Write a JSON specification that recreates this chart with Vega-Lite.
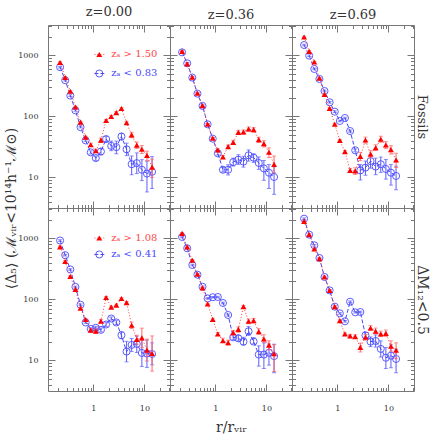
{
"$schema":"https://vega.github.io/schema/vega-lite/v6.json",
"padding":{"left":3,"top":5,"right":2,"bottom":2},
"bounds":"flush",
"spacing":0,
"columns":3,
"datasets":{
"pts":[
{"p":"F0","s":"r","x":0.224,"y":767,"lo":744,"hi":790},{"p":"F0","s":"r","x":0.282,"y":435,"lo":422,"hi":448},{"p":"F0","s":"r","x":0.355,"y":259,"lo":251,"hi":267},{"p":"F0","s":"r","x":0.447,"y":143,"lo":139,"hi":147},{"p":"F0","s":"r","x":0.562,"y":81,"lo":78.6,"hi":83.4},{"p":"F0","s":"r","x":0.708,"y":46,"lo":44.6,"hi":47.4},{"p":"F0","s":"r","x":0.891,"y":34.5,"lo":32.4,"hi":36.6},{"p":"F0","s":"r","x":1.12,"y":27.4,"lo":25.8,"hi":29},{"p":"F0","s":"r","x":1.41,"y":41,"lo":37.7,"hi":44.3},{"p":"F0","s":"r","x":1.78,"y":86,"lo":82.6,"hi":89.4},{"p":"F0","s":"r","x":2.24,"y":100,"lo":96,"hi":104},{"p":"F0","s":"r","x":2.82,"y":116,"lo":111,"hi":121},{"p":"F0","s":"r","x":3.55,"y":135,"lo":130,"hi":140},{"p":"F0","s":"r","x":4.47,"y":79,"lo":74.3,"hi":83.7},{"p":"F0","s":"r","x":5.62,"y":50,"lo":45,"hi":55},{"p":"F0","s":"r","x":7.08,"y":34,"lo":29.9,"hi":38.1},{"p":"F0","s":"r","x":8.91,"y":29,"lo":24.7,"hi":33.4},{"p":"F0","s":"r","x":11.2,"y":23,"lo":18.9,"hi":27.1},{"p":"F0","s":"r","x":14.1,"y":14.8,"lo":10,"hi":20},
{"p":"F0","s":"b","x":0.224,"y":643,"lo":624,"hi":662},{"p":"F0","s":"b","x":0.282,"y":393,"lo":381,"hi":405},{"p":"F0","s":"b","x":0.355,"y":220,"lo":213,"hi":227},{"p":"F0","s":"b","x":0.447,"y":126,"lo":122,"hi":130},{"p":"F0","s":"b","x":0.562,"y":67,"lo":65,"hi":69},{"p":"F0","s":"b","x":0.708,"y":40.5,"lo":39.3,"hi":41.7},{"p":"F0","s":"b","x":0.891,"y":25.8,"lo":24.3,"hi":27.3},{"p":"F0","s":"b","x":1.12,"y":20.8,"lo":19.1,"hi":22.5},{"p":"F0","s":"b","x":1.41,"y":26.7,"lo":23.5,"hi":29.9},{"p":"F0","s":"b","x":1.78,"y":42.7,"lo":38.4,"hi":47},{"p":"F0","s":"b","x":2.24,"y":33,"lo":27.5,"hi":39.6},{"p":"F0","s":"b","x":2.82,"y":31.5,"lo":24.5,"hi":39.5},{"p":"F0","s":"b","x":3.55,"y":47,"lo":41.5,"hi":53},{"p":"F0","s":"b","x":4.47,"y":29,"lo":22.8,"hi":36.5},{"p":"F0","s":"b","x":5.62,"y":16.5,"lo":11.1,"hi":22.5},{"p":"F0","s":"b","x":7.08,"y":17.2,"lo":11.6,"hi":25.3},{"p":"F0","s":"b","x":8.91,"y":13.4,"lo":8.9,"hi":19.6},{"p":"F0","s":"b","x":11.2,"y":11.6,"lo":5.8,"hi":18.5},{"p":"F0","s":"b","x":14.1,"y":12.4,"lo":6.6,"hi":22},
{"p":"F36","s":"r","x":0.224,"y":1170,"lo":1135,"hi":1205},{"p":"F36","s":"r","x":0.282,"y":727,"lo":705,"hi":749},{"p":"F36","s":"r","x":0.355,"y":439,"lo":426,"hi":452},{"p":"F36","s":"r","x":0.447,"y":240,"lo":233,"hi":247},{"p":"F36","s":"r","x":0.562,"y":151,"lo":146,"hi":156},{"p":"F36","s":"r","x":0.708,"y":74.5,"lo":72.3,"hi":76.7},{"p":"F36","s":"r","x":0.891,"y":43.9,"lo":42.6,"hi":45.2},{"p":"F36","s":"r","x":1.12,"y":28.2,"lo":26.8,"hi":29.6},{"p":"F36","s":"r","x":1.41,"y":21.7,"lo":20.4,"hi":23},{"p":"F36","s":"r","x":1.78,"y":32,"lo":29.8,"hi":34.2},{"p":"F36","s":"r","x":2.24,"y":37.7,"lo":34.7,"hi":40.7},{"p":"F36","s":"r","x":2.82,"y":55,"lo":50.6,"hi":59.4},{"p":"F36","s":"r","x":3.55,"y":55.7,"lo":51.2,"hi":60.2},{"p":"F36","s":"r","x":4.47,"y":62.4,"lo":57.4,"hi":67.4},{"p":"F36","s":"r","x":5.62,"y":60.8,"lo":55.9,"hi":65.7},{"p":"F36","s":"r","x":7.08,"y":41.7,"lo":37.5,"hi":45.9},{"p":"F36","s":"r","x":8.91,"y":35.9,"lo":31.6,"hi":40.2},{"p":"F36","s":"r","x":11.2,"y":25.9,"lo":21.2,"hi":30.6},{"p":"F36","s":"r","x":14.1,"y":16.4,"lo":12,"hi":22.5},
{"p":"F36","s":"b","x":0.224,"y":1127,"lo":1093,"hi":1161},{"p":"F36","s":"b","x":0.282,"y":745,"lo":723,"hi":767},{"p":"F36","s":"b","x":0.355,"y":434,"lo":421,"hi":447},{"p":"F36","s":"b","x":0.447,"y":237,"lo":230,"hi":244},{"p":"F36","s":"b","x":0.562,"y":149,"lo":145,"hi":153},{"p":"F36","s":"b","x":0.708,"y":74.5,"lo":72.3,"hi":76.7},{"p":"F36","s":"b","x":0.891,"y":43.3,"lo":42,"hi":44.6},{"p":"F36","s":"b","x":1.12,"y":24.9,"lo":23.4,"hi":26.4},{"p":"F36","s":"b","x":1.41,"y":13.4,"lo":12.3,"hi":14.6},{"p":"F36","s":"b","x":1.78,"y":13.4,"lo":11,"hi":16.2},{"p":"F36","s":"b","x":2.24,"y":17.9,"lo":15.4,"hi":20.8},{"p":"F36","s":"b","x":2.82,"y":19.6,"lo":16.4,"hi":23.6},{"p":"F36","s":"b","x":3.55,"y":18.2,"lo":14.8,"hi":22.3},{"p":"F36","s":"b","x":4.47,"y":23.1,"lo":18.6,"hi":28.3},{"p":"F36","s":"b","x":5.62,"y":21.1,"lo":17.7,"hi":24.5},{"p":"F36","s":"b","x":7.08,"y":17.3,"lo":13.6,"hi":21.7},{"p":"F36","s":"b","x":8.91,"y":14.1,"lo":9,"hi":19},{"p":"F36","s":"b","x":11.2,"y":12,"lo":6.6,"hi":16.3},{"p":"F36","s":"b","x":14.1,"y":10.2,"lo":5.3,"hi":15},
{"p":"F69","s":"r","x":0.224,"y":2010,"lo":1950,"hi":2070},{"p":"F69","s":"r","x":0.282,"y":1170,"lo":1135,"hi":1205},{"p":"F69","s":"r","x":0.355,"y":782,"lo":759,"hi":805},{"p":"F69","s":"r","x":0.447,"y":423,"lo":410,"hi":436},{"p":"F69","s":"r","x":0.562,"y":231,"lo":224,"hi":238},{"p":"F69","s":"r","x":0.708,"y":136,"lo":132,"hi":140},{"p":"F69","s":"r","x":0.891,"y":74.5,"lo":72.3,"hi":76.7},{"p":"F69","s":"r","x":1.12,"y":40.6,"lo":39.4,"hi":41.8},{"p":"F69","s":"r","x":1.41,"y":26.5,"lo":25.4,"hi":27.6},{"p":"F69","s":"r","x":1.78,"y":13.1,"lo":12.1,"hi":14.1},{"p":"F69","s":"r","x":2.24,"y":12.8,"lo":11.2,"hi":14.4},{"p":"F69","s":"r","x":2.82,"y":22.2,"lo":18.9,"hi":25.9},{"p":"F69","s":"r","x":3.55,"y":41.2,"lo":36.5,"hi":46},{"p":"F69","s":"r","x":4.47,"y":24,"lo":20.9,"hi":27.5},{"p":"F69","s":"r","x":5.62,"y":30.8,"lo":27.6,"hi":34.4},{"p":"F69","s":"r","x":7.08,"y":42.3,"lo":37.8,"hi":47.5},{"p":"F69","s":"r","x":8.91,"y":34.1,"lo":29.7,"hi":38.8},{"p":"F69","s":"r","x":11.2,"y":28.6,"lo":24.2,"hi":33.2},{"p":"F69","s":"r","x":14.1,"y":19.4,"lo":14.6,"hi":25},
{"p":"F69","s":"b","x":0.224,"y":1486,"lo":1441,"hi":1531},{"p":"F69","s":"b","x":0.282,"y":993,"lo":963,"hi":1023},{"p":"F69","s":"b","x":0.355,"y":601,"lo":583,"hi":619},{"p":"F69","s":"b","x":0.447,"y":412,"lo":400,"hi":424},{"p":"F69","s":"b","x":0.562,"y":262,"lo":254,"hi":270},{"p":"F69","s":"b","x":0.708,"y":171,"lo":166,"hi":176},{"p":"F69","s":"b","x":0.891,"y":120,"lo":116,"hi":124},{"p":"F69","s":"b","x":1.12,"y":84.4,"lo":81.9,"hi":86.9},{"p":"F69","s":"b","x":1.41,"y":94.4,"lo":91.6,"hi":97.2},{"p":"F69","s":"b","x":1.78,"y":57.8,"lo":55.5,"hi":60.1},{"p":"F69","s":"b","x":2.24,"y":27.9,"lo":26.4,"hi":29.4},{"p":"F69","s":"b","x":2.82,"y":13.1,"lo":9.1,"hi":16.3},{"p":"F69","s":"b","x":3.55,"y":14.5,"lo":10.9,"hi":18.6},{"p":"F69","s":"b","x":4.47,"y":18.6,"lo":14.2,"hi":23.9},{"p":"F69","s":"b","x":5.62,"y":15.1,"lo":11.1,"hi":20.8},{"p":"F69","s":"b","x":7.08,"y":16.5,"lo":12.1,"hi":21.6},{"p":"F69","s":"b","x":8.91,"y":13.8,"lo":9.4,"hi":19.7},{"p":"F69","s":"b","x":11.2,"y":12,"lo":7.5,"hi":16.3},{"p":"F69","s":"b","x":14.1,"y":10.6,"lo":6.3,"hi":15.3},
{"p":"D0","s":"r","x":0.224,"y":730,"lo":708,"hi":752},{"p":"D0","s":"r","x":0.282,"y":420,"lo":407,"hi":433},{"p":"D0","s":"r","x":0.355,"y":238,"lo":231,"hi":245},{"p":"D0","s":"r","x":0.447,"y":146,"lo":142,"hi":150},{"p":"D0","s":"r","x":0.562,"y":72,"lo":69.8,"hi":74.2},{"p":"D0","s":"r","x":0.708,"y":47,"lo":45.6,"hi":48.4},{"p":"D0","s":"r","x":0.891,"y":31.4,"lo":29.5,"hi":33.3},{"p":"D0","s":"r","x":1.12,"y":30.3,"lo":27.9,"hi":32.7},{"p":"D0","s":"r","x":1.41,"y":44.2,"lo":41.5,"hi":46.9},{"p":"D0","s":"r","x":1.78,"y":108,"lo":104,"hi":112},{"p":"D0","s":"r","x":2.24,"y":75,"lo":72,"hi":78},{"p":"D0","s":"r","x":2.82,"y":80.8,"lo":77.6,"hi":84},{"p":"D0","s":"r","x":3.55,"y":104,"lo":100,"hi":108},{"p":"D0","s":"r","x":4.47,"y":89,"lo":85,"hi":93},{"p":"D0","s":"r","x":5.62,"y":37.9,"lo":33.4,"hi":42.5},{"p":"D0","s":"r","x":7.08,"y":22.1,"lo":18.5,"hi":26},{"p":"D0","s":"r","x":8.91,"y":23.5,"lo":16.2,"hi":33.9},{"p":"D0","s":"r","x":11.2,"y":14.8,"lo":9.8,"hi":22.4},{"p":"D0","s":"r","x":14.1,"y":13,"lo":6.7,"hi":25.3},
{"p":"D0","s":"b","x":0.224,"y":927,"lo":899,"hi":955},{"p":"D0","s":"b","x":0.282,"y":533,"lo":517,"hi":549},{"p":"D0","s":"b","x":0.355,"y":311,"lo":302,"hi":320},{"p":"D0","s":"b","x":0.447,"y":161,"lo":156,"hi":166},{"p":"D0","s":"b","x":0.562,"y":82,"lo":79.5,"hi":84.5},{"p":"D0","s":"b","x":0.708,"y":42,"lo":40.7,"hi":43.3},{"p":"D0","s":"b","x":0.891,"y":33,"lo":31.7,"hi":34.3},{"p":"D0","s":"b","x":1.12,"y":34.4,"lo":32.4,"hi":36.4},{"p":"D0","s":"b","x":1.41,"y":31.8,"lo":29.5,"hi":34.1},{"p":"D0","s":"b","x":1.78,"y":38.9,"lo":36.2,"hi":41.6},{"p":"D0","s":"b","x":2.24,"y":48.8,"lo":45.9,"hi":51.7},{"p":"D0","s":"b","x":2.82,"y":42,"lo":39,"hi":45},{"p":"D0","s":"b","x":3.55,"y":26,"lo":22.8,"hi":29.5},{"p":"D0","s":"b","x":4.47,"y":14,"lo":9.5,"hi":20.6},{"p":"D0","s":"b","x":5.62,"y":18,"lo":14.1,"hi":23},{"p":"D0","s":"b","x":7.08,"y":18.7,"lo":13.5,"hi":25},{"p":"D0","s":"b","x":8.91,"y":13.3,"lo":8,"hi":22},{"p":"D0","s":"b","x":11.2,"y":13,"lo":7.7,"hi":21.6},{"p":"D0","s":"b","x":14.1,"y":12.8,"lo":8.5,"hi":19.5},
{"p":"D36","s":"r","x":0.224,"y":1216,"lo":1180,"hi":1252},{"p":"D36","s":"r","x":0.282,"y":727,"lo":705,"hi":749},{"p":"D36","s":"r","x":0.355,"y":439,"lo":426,"hi":452},{"p":"D36","s":"r","x":0.447,"y":259,"lo":251,"hi":267},{"p":"D36","s":"r","x":0.562,"y":155,"lo":150,"hi":160},{"p":"D36","s":"r","x":0.708,"y":84.4,"lo":81.9,"hi":86.9},{"p":"D36","s":"r","x":0.891,"y":47.3,"lo":45.4,"hi":49.2},{"p":"D36","s":"r","x":1.12,"y":27.2,"lo":25.6,"hi":28.8},{"p":"D36","s":"r","x":1.41,"y":21.1,"lo":19.7,"hi":23.2},{"p":"D36","s":"r","x":1.78,"y":19.6,"lo":17.9,"hi":21.6},{"p":"D36","s":"r","x":2.24,"y":28.6,"lo":26.4,"hi":31},{"p":"D36","s":"r","x":2.82,"y":32.4,"lo":29,"hi":35.6},{"p":"D36","s":"r","x":3.55,"y":76.3,"lo":72.8,"hi":80},{"p":"D36","s":"r","x":4.47,"y":43.9,"lo":40,"hi":48},{"p":"D36","s":"r","x":5.62,"y":45,"lo":41.5,"hi":49},{"p":"D36","s":"r","x":7.08,"y":29.7,"lo":27,"hi":33.4},{"p":"D36","s":"r","x":8.91,"y":22.5,"lo":19.9,"hi":26.4},{"p":"D36","s":"r","x":11.2,"y":17.9,"lo":14.9,"hi":21.1},{"p":"D36","s":"r","x":14.1,"y":12.9,"lo":6.6,"hi":18.2},
{"p":"D36","s":"b","x":0.224,"y":1060,"lo":1028,"hi":1092},{"p":"D36","s":"b","x":0.282,"y":691,"lo":670,"hi":712},{"p":"D36","s":"b","x":0.355,"y":368,"lo":357,"hi":379},{"p":"D36","s":"b","x":0.447,"y":255,"lo":247,"hi":263},{"p":"D36","s":"b","x":0.562,"y":162,"lo":157,"hi":167},{"p":"D36","s":"b","x":0.708,"y":104,"lo":101,"hi":107},{"p":"D36","s":"b","x":0.891,"y":109,"lo":106,"hi":112},{"p":"D36","s":"b","x":1.12,"y":110,"lo":107,"hi":113},{"p":"D36","s":"b","x":1.41,"y":87.7,"lo":85,"hi":90.4},{"p":"D36","s":"b","x":1.78,"y":55.7,"lo":53.5,"hi":58},{"p":"D36","s":"b","x":2.24,"y":24,"lo":21.9,"hi":26.3},{"p":"D36","s":"b","x":2.82,"y":23.1,"lo":20.8,"hi":26.1},{"p":"D36","s":"b","x":3.55,"y":20.4,"lo":17.9,"hi":24},{"p":"D36","s":"b","x":4.47,"y":30.1,"lo":25.9,"hi":36},{"p":"D36","s":"b","x":5.62,"y":20.4,"lo":18.8,"hi":23.6},{"p":"D36","s":"b","x":7.08,"y":12.5,"lo":8.1,"hi":17.4},{"p":"D36","s":"b","x":8.91,"y":12.5,"lo":7.4,"hi":19.4},{"p":"D36","s":"b","x":11.2,"y":13.4,"lo":8.4,"hi":18.6},{"p":"D36","s":"b","x":14.1,"y":11.8,"lo":6.3,"hi":18.5},
{"p":"D69","s":"r","x":0.224,"y":1910,"lo":1853,"hi":1967},{"p":"D69","s":"r","x":0.282,"y":1156,"lo":1121,"hi":1191},{"p":"D69","s":"r","x":0.355,"y":673,"lo":653,"hi":693},{"p":"D69","s":"r","x":0.447,"y":467,"lo":453,"hi":481},{"p":"D69","s":"r","x":0.562,"y":234,"lo":227,"hi":241},{"p":"D69","s":"r","x":0.708,"y":141,"lo":137,"hi":145},{"p":"D69","s":"r","x":0.891,"y":76.3,"lo":74,"hi":78.6},{"p":"D69","s":"r","x":1.12,"y":45,"lo":43.6,"hi":46.4},{"p":"D69","s":"r","x":1.41,"y":27.2,"lo":26.1,"hi":28.3},{"p":"D69","s":"r","x":1.78,"y":25.2,"lo":23.7,"hi":26.8},{"p":"D69","s":"r","x":2.24,"y":24.6,"lo":23,"hi":26.4},{"p":"D69","s":"r","x":2.82,"y":16.4,"lo":13.8,"hi":19.3},{"p":"D69","s":"r","x":3.55,"y":24,"lo":21.6,"hi":26.6},{"p":"D69","s":"r","x":4.47,"y":34.1,"lo":31.1,"hi":37.4},{"p":"D69","s":"r","x":5.62,"y":30.1,"lo":27.3,"hi":34},{"p":"D69","s":"r","x":7.08,"y":27.2,"lo":24.6,"hi":30.3},{"p":"D69","s":"r","x":8.91,"y":27.9,"lo":24.8,"hi":31.6},{"p":"D69","s":"r","x":11.2,"y":17.1,"lo":14.2,"hi":21},{"p":"D69","s":"r","x":14.1,"y":14.7,"lo":10.7,"hi":19.5},
{"p":"D69","s":"b","x":0.224,"y":2113,"lo":2050,"hi":2176},{"p":"D69","s":"b","x":0.282,"y":1156,"lo":1121,"hi":1191},{"p":"D69","s":"b","x":0.355,"y":773,"lo":750,"hi":796},{"p":"D69","s":"b","x":0.447,"y":479,"lo":465,"hi":493},{"p":"D69","s":"b","x":0.562,"y":234,"lo":227,"hi":241},{"p":"D69","s":"b","x":0.708,"y":141,"lo":137,"hi":145},{"p":"D69","s":"b","x":0.891,"y":76.3,"lo":74,"hi":78.6},{"p":"D69","s":"b","x":1.12,"y":59.3,"lo":57.5,"hi":61.1},{"p":"D69","s":"b","x":1.41,"y":43.9,"lo":42.6,"hi":45.2},{"p":"D69","s":"b","x":1.78,"y":92,"lo":89.2,"hi":94.8},{"p":"D69","s":"b","x":2.24,"y":61.6,"lo":59.8,"hi":63.4},{"p":"D69","s":"b","x":2.82,"y":62.4,"lo":60.5,"hi":64.3},{"p":"D69","s":"b","x":3.55,"y":25.9,"lo":23.3,"hi":28.7},{"p":"D69","s":"b","x":4.47,"y":20.4,"lo":16.9,"hi":24.4},{"p":"D69","s":"b","x":5.62,"y":20.9,"lo":16.6,"hi":26.3},{"p":"D69","s":"b","x":7.08,"y":15.5,"lo":11.4,"hi":21},{"p":"D69","s":"b","x":8.91,"y":11.1,"lo":7.4,"hi":16.3},{"p":"D69","s":"b","x":11.2,"y":12,"lo":7.6,"hi":18.1},{"p":"D69","s":"b","x":14.1,"y":10.6,"lo":6.3,"hi":15.3}
],
"leg":[
{"p":"F0","s":"r","k":"sym","x":1.31,"y":1040},{"p":"F0","s":"r","k":"ln","x":1.05,"y":1040},{"p":"F0","s":"r","k":"ln","x":1.64,"y":1040},{"p":"F0","s":"r","k":"txt","x":2.25,"y":1040,"t":"zₐ > 1.50"},
{"p":"F0","s":"b","k":"sym","x":1.31,"y":507},{"p":"F0","s":"b","k":"ln","x":1.05,"y":507},{"p":"F0","s":"b","k":"ln","x":1.64,"y":507},{"p":"F0","s":"b","k":"txt","x":2.25,"y":507,"t":"zₐ < 0.83"},
{"p":"D0","s":"r","k":"sym","x":1.31,"y":1020},{"p":"D0","s":"r","k":"ln","x":1.05,"y":1020},{"p":"D0","s":"r","k":"ln","x":1.64,"y":1020},{"p":"D0","s":"r","k":"txt","x":2.25,"y":1020,"t":"zₐ > 1.08"},
{"p":"D0","s":"b","k":"sym","x":1.31,"y":547},{"p":"D0","s":"b","k":"ln","x":1.05,"y":547},{"p":"D0","s":"b","k":"ln","x":1.64,"y":547},{"p":"D0","s":"b","k":"txt","x":2.25,"y":547,"t":"zₐ < 0.41"}
]
},
"concat":[
{"width":122,"height":183,"title":{"text":"z=0.00"},
 "layer":[
  {"data":{"name":"pts"},"transform":[{"filter":"datum.p=='F0'"}],
   "encoding":{
    "x":{"field":"x","type":"quantitative","scale":{"type":"log","domain":[0.13,31.6],"nice":false},"axis":{"orient":"bottom","values":[0.2,0.3,0.4,0.5,0.6,0.7,0.8,0.9,1,2,3,4,5,6,7,8,9,10,20,30],"labels":false,"title":null,"tickSize":{"condition":{"test":"datum.value==1||datum.value==10","value":-7},"value":-3.5}}},
    "y":{"field":"y","type":"quantitative","scale":{"type":"log","domain":[3.162,3162],"nice":false},"axis":{"orient":"left","values":[4,5,6,7,8,9,10,20,30,40,50,60,70,80,90,100,200,300,400,500,600,700,800,900,1000,2000,3000],"format":"d","labelOverlap":false,"labelPadding":17,"labelExpr":"datum.value==10||datum.value==100||datum.value==1000?datum.label:''","tickSize":{"condition":{"test":"datum.value==10||datum.value==100||datum.value==1000","value":-7},"value":-3.5},"title":"⟨Δ₅⟩ (ℳᵥᵢᵣ<10¹⁴h⁻¹ℳ⊙)","titleX":-37,"titleY":183,"titleAlign":"center","titleBaseline":"middle","titleFontSize":14}}
   },
   "layer":[
    {"transform":[{"filter":"datum.s=='b'"}],"mark":{"type":"errorbar","color":"#5c5cff","ticks":{"size":4}},"encoding":{"y":{"field":"lo","type":"quantitative"},"y2":{"field":"hi"}}},
    {"transform":[{"filter":"datum.s=='b'"}],"mark":{"type":"line","color":"#4646ff","strokeWidth":1,"strokeDash":[4,2]}},
    {"transform":[{"filter":"datum.s=='b'"}],"mark":{"type":"point","shape":"circle","filled":false,"color":"#4a4aff","size":50,"strokeWidth":0.9,"opacity":1}},
    {"transform":[{"filter":"datum.s=='r'"}],"mark":{"type":"errorbar","color":"#ff6464","ticks":{"size":4}},"encoding":{"y":{"field":"lo","type":"quantitative"},"y2":{"field":"hi"}}},
    {"transform":[{"filter":"datum.s=='r'"}],"mark":{"type":"line","color":"#ff3c3c","strokeWidth":1,"strokeDash":[1,2]}},
    {"transform":[{"filter":"datum.s=='r'"}],"mark":{"type":"point","shape":"triangle-up","filled":true,"color":"#ff0000","size":35,"opacity":1}},
    {"data":{"name":"leg"},"transform":[{"filter":"datum.p=='F0'&&datum.s=='r'&&datum.k=='ln'"}],"mark":{"type":"line","color":"#ff3c3c","strokeWidth":1,"strokeDash":[1,2]}},
    {"data":{"name":"leg"},"transform":[{"filter":"datum.p=='F0'&&datum.s=='b'&&datum.k=='ln'"}],"mark":{"type":"line","color":"#4646ff","strokeWidth":1,"strokeDash":[4,2]}},
    {"data":{"name":"leg"},"transform":[{"filter":"datum.p=='F0'&&datum.s=='r'&&datum.k=='sym'"}],"mark":{"type":"point","shape":"triangle-up","filled":true,"color":"#ff0000","size":35,"opacity":1}},
    {"data":{"name":"leg"},"transform":[{"filter":"datum.p=='F0'&&datum.s=='b'&&datum.k=='sym'"}],"mark":{"type":"point","shape":"circle","filled":false,"color":"#4a4aff","size":50,"strokeWidth":0.9,"opacity":1}},
    {"data":{"name":"leg"},"transform":[{"filter":"datum.p=='F0'&&datum.s=='r'&&datum.k=='txt'"}],"mark":{"type":"text","align":"left","baseline":"middle","font":"DejaVu Serif","fontSize":10,"color":"#ff4848"},"encoding":{"text":{"field":"t"}}},
    {"data":{"name":"leg"},"transform":[{"filter":"datum.p=='F0'&&datum.s=='b'&&datum.k=='txt'"}],"mark":{"type":"text","align":"left","baseline":"middle","font":"DejaVu Serif","fontSize":10,"color":"#4848ff"},"encoding":{"text":{"field":"t"}}}
   ]
  },
  {"data":{"name":"leg"},"mark":{"type":"point","opacity":0},
   "encoding":{
    "x":{"field":"x","type":"quantitative","scale":{"type":"log","domain":[0.13,31.6],"nice":false},"axis":{"orient":"top","values":[0.2,0.3,0.4,0.5,0.6,0.7,0.8,0.9,1,2,3,4,5,6,7,8,9,10,20,30],"labels":false,"title":null,"tickSize":{"condition":{"test":"datum.value==1||datum.value==10","value":-7},"value":-3.5}}},
    "y":{"field":"y","type":"quantitative","scale":{"type":"log","domain":[3.162,3162],"nice":false},"axis":{"orient":"right","values":[4,5,6,7,8,9,10,20,30,40,50,60,70,80,90,100,200,300,400,500,600,700,800,900,1000,2000,3000],"labels":false,"title":null,"tickSize":{"condition":{"test":"datum.value==10||datum.value==100||datum.value==1000","value":-7},"value":-3.5}}}
   }}
 ],
 "resolve":{"scale":{"x":"independent","y":"independent"}}
},
{"width":122,"height":183,"title":{"text":"z=0.36"},
 "layer":[
  {"data":{"name":"pts"},"transform":[{"filter":"datum.p=='F36'"}],
   "encoding":{
    "x":{"field":"x","type":"quantitative","scale":{"type":"log","domain":[0.13,31.6],"nice":false},"axis":{"orient":"bottom","values":[0.2,0.3,0.4,0.5,0.6,0.7,0.8,0.9,1,2,3,4,5,6,7,8,9,10,20,30],"labels":false,"title":null,"tickSize":{"condition":{"test":"datum.value==1||datum.value==10","value":-7},"value":-3.5}}},
    "y":{"field":"y","type":"quantitative","scale":{"type":"log","domain":[3.162,3162],"nice":false},"axis":{"orient":"left","values":[4,5,6,7,8,9,10,20,30,40,50,60,70,80,90,100,200,300,400,500,600,700,800,900,1000,2000,3000],"labels":false,"title":null,"tickSize":{"condition":{"test":"datum.value==10||datum.value==100||datum.value==1000","value":-7},"value":-3.5}}}
   },
   "layer":[
    {"transform":[{"filter":"datum.s=='b'"}],"mark":{"type":"errorbar","color":"#5c5cff","ticks":{"size":4}},"encoding":{"y":{"field":"lo","type":"quantitative"},"y2":{"field":"hi"}}},
    {"transform":[{"filter":"datum.s=='b'"}],"mark":{"type":"line","color":"#4646ff","strokeWidth":1,"strokeDash":[4,2]}},
    {"transform":[{"filter":"datum.s=='b'"}],"mark":{"type":"point","shape":"circle","filled":false,"color":"#4a4aff","size":50,"strokeWidth":0.9,"opacity":1}},
    {"transform":[{"filter":"datum.s=='r'"}],"mark":{"type":"errorbar","color":"#ff6464","ticks":{"size":4}},"encoding":{"y":{"field":"lo","type":"quantitative"},"y2":{"field":"hi"}}},
    {"transform":[{"filter":"datum.s=='r'"}],"mark":{"type":"line","color":"#ff3c3c","strokeWidth":1,"strokeDash":[1,2]}},
    {"transform":[{"filter":"datum.s=='r'"}],"mark":{"type":"point","shape":"triangle-up","filled":true,"color":"#ff0000","size":35,"opacity":1}}
   ]
  },
  {"data":{"name":"leg"},"mark":{"type":"point","opacity":0},
   "encoding":{
    "x":{"field":"x","type":"quantitative","scale":{"type":"log","domain":[0.13,31.6],"nice":false},"axis":{"orient":"top","values":[0.2,0.3,0.4,0.5,0.6,0.7,0.8,0.9,1,2,3,4,5,6,7,8,9,10,20,30],"labels":false,"title":null,"tickSize":{"condition":{"test":"datum.value==1||datum.value==10","value":-7},"value":-3.5}}},
    "y":{"field":"y","type":"quantitative","scale":{"type":"log","domain":[3.162,3162],"nice":false},"axis":{"orient":"right","values":[4,5,6,7,8,9,10,20,30,40,50,60,70,80,90,100,200,300,400,500,600,700,800,900,1000,2000,3000],"labels":false,"title":null,"tickSize":{"condition":{"test":"datum.value==10||datum.value==100||datum.value==1000","value":-7},"value":-3.5}}}
   }}
 ],
 "resolve":{"scale":{"x":"independent","y":"independent"}}
},
{"width":122,"height":183,"title":{"text":"z=0.69"},
 "layer":[
  {"data":{"name":"pts"},"transform":[{"filter":"datum.p=='F69'"}],
   "encoding":{
    "x":{"field":"x","type":"quantitative","scale":{"type":"log","domain":[0.13,31.6],"nice":false},"axis":{"orient":"bottom","values":[0.2,0.3,0.4,0.5,0.6,0.7,0.8,0.9,1,2,3,4,5,6,7,8,9,10,20,30],"labels":false,"title":null,"tickSize":{"condition":{"test":"datum.value==1||datum.value==10","value":-7},"value":-3.5}}},
    "y":{"field":"y","type":"quantitative","scale":{"type":"log","domain":[3.162,3162],"nice":false},"axis":{"orient":"left","values":[4,5,6,7,8,9,10,20,30,40,50,60,70,80,90,100,200,300,400,500,600,700,800,900,1000,2000,3000],"labels":false,"title":null,"tickSize":{"condition":{"test":"datum.value==10||datum.value==100||datum.value==1000","value":-7},"value":-3.5}}}
   },
   "layer":[
    {"transform":[{"filter":"datum.s=='b'"}],"mark":{"type":"errorbar","color":"#5c5cff","ticks":{"size":4}},"encoding":{"y":{"field":"lo","type":"quantitative"},"y2":{"field":"hi"}}},
    {"transform":[{"filter":"datum.s=='b'"}],"mark":{"type":"line","color":"#4646ff","strokeWidth":1,"strokeDash":[4,2]}},
    {"transform":[{"filter":"datum.s=='b'"}],"mark":{"type":"point","shape":"circle","filled":false,"color":"#4a4aff","size":50,"strokeWidth":0.9,"opacity":1}},
    {"transform":[{"filter":"datum.s=='r'"}],"mark":{"type":"errorbar","color":"#ff6464","ticks":{"size":4}},"encoding":{"y":{"field":"lo","type":"quantitative"},"y2":{"field":"hi"}}},
    {"transform":[{"filter":"datum.s=='r'"}],"mark":{"type":"line","color":"#ff3c3c","strokeWidth":1,"strokeDash":[1,2]}},
    {"transform":[{"filter":"datum.s=='r'"}],"mark":{"type":"point","shape":"triangle-up","filled":true,"color":"#ff0000","size":35,"opacity":1}}
   ]
  },
  {"data":{"name":"leg"},"mark":{"type":"point","opacity":0},
   "encoding":{
    "x":{"field":"x","type":"quantitative","scale":{"type":"log","domain":[0.13,31.6],"nice":false},"axis":{"orient":"top","values":[0.2,0.3,0.4,0.5,0.6,0.7,0.8,0.9,1,2,3,4,5,6,7,8,9,10,20,30],"labels":false,"title":null,"tickSize":{"condition":{"test":"datum.value==1||datum.value==10","value":-7},"value":-3.5}}},
    "y":{"field":"y","type":"quantitative","scale":{"type":"log","domain":[3.162,3162],"nice":false},"axis":{"orient":"right","values":[4,5,6,7,8,9,10,20,30,40,50,60,70,80,90,100,200,300,400,500,600,700,800,900,1000,2000,3000],"labels":false,"title":"Fossils","titleFontSize":13,"titlePadding":0,"tickSize":{"condition":{"test":"datum.value==10||datum.value==100||datum.value==1000","value":-7},"value":-3.5}}}
   }}
 ],
 "resolve":{"scale":{"x":"independent","y":"independent"}}
},
{"width":122,"height":183,
 "layer":[
  {"data":{"name":"pts"},"transform":[{"filter":"datum.p=='D0'"}],
   "encoding":{
    "x":{"field":"x","type":"quantitative","scale":{"type":"log","domain":[0.13,31.6],"nice":false},"axis":{"orient":"bottom","values":[0.2,0.3,0.4,0.5,0.6,0.7,0.8,0.9,1,2,3,4,5,6,7,8,9,10,20,30],"format":"d","labelOverlap":false,"labelPadding":20,"labelExpr":"datum.value==1||datum.value==10?datum.label:''","title":null,"tickSize":{"condition":{"test":"datum.value==1||datum.value==10","value":-7},"value":-3.5}}},
    "y":{"field":"y","type":"quantitative","scale":{"type":"log","domain":[3.162,3162],"nice":false},"axis":{"orient":"left","values":[4,5,6,7,8,9,10,20,30,40,50,60,70,80,90,100,200,300,400,500,600,700,800,900,1000,2000,3000],"format":"d","labelOverlap":false,"labelPadding":17,"labelExpr":"datum.value==10||datum.value==100||datum.value==1000?datum.label:''","title":null,"tickSize":{"condition":{"test":"datum.value==10||datum.value==100||datum.value==1000","value":-7},"value":-3.5}}}
   },
   "layer":[
    {"transform":[{"filter":"datum.s=='b'"}],"mark":{"type":"errorbar","color":"#5c5cff","ticks":{"size":4}},"encoding":{"y":{"field":"lo","type":"quantitative"},"y2":{"field":"hi"}}},
    {"transform":[{"filter":"datum.s=='b'"}],"mark":{"type":"line","color":"#4646ff","strokeWidth":1,"strokeDash":[4,2]}},
    {"transform":[{"filter":"datum.s=='b'"}],"mark":{"type":"point","shape":"circle","filled":false,"color":"#4a4aff","size":50,"strokeWidth":0.9,"opacity":1}},
    {"transform":[{"filter":"datum.s=='r'"}],"mark":{"type":"errorbar","color":"#ff6464","ticks":{"size":4}},"encoding":{"y":{"field":"lo","type":"quantitative"},"y2":{"field":"hi"}}},
    {"transform":[{"filter":"datum.s=='r'"}],"mark":{"type":"line","color":"#ff3c3c","strokeWidth":1,"strokeDash":[1,2]}},
    {"transform":[{"filter":"datum.s=='r'"}],"mark":{"type":"point","shape":"triangle-up","filled":true,"color":"#ff0000","size":35,"opacity":1}},
    {"data":{"name":"leg"},"transform":[{"filter":"datum.p=='D0'&&datum.s=='r'&&datum.k=='ln'"}],"mark":{"type":"line","color":"#ff3c3c","strokeWidth":1,"strokeDash":[1,2]}},
    {"data":{"name":"leg"},"transform":[{"filter":"datum.p=='D0'&&datum.s=='b'&&datum.k=='ln'"}],"mark":{"type":"line","color":"#4646ff","strokeWidth":1,"strokeDash":[4,2]}},
    {"data":{"name":"leg"},"transform":[{"filter":"datum.p=='D0'&&datum.s=='r'&&datum.k=='sym'"}],"mark":{"type":"point","shape":"triangle-up","filled":true,"color":"#ff0000","size":35,"opacity":1}},
    {"data":{"name":"leg"},"transform":[{"filter":"datum.p=='D0'&&datum.s=='b'&&datum.k=='sym'"}],"mark":{"type":"point","shape":"circle","filled":false,"color":"#4a4aff","size":50,"strokeWidth":0.9,"opacity":1}},
    {"data":{"name":"leg"},"transform":[{"filter":"datum.p=='D0'&&datum.s=='r'&&datum.k=='txt'"}],"mark":{"type":"text","align":"left","baseline":"middle","font":"DejaVu Serif","fontSize":10,"color":"#ff4848"},"encoding":{"text":{"field":"t"}}},
    {"data":{"name":"leg"},"transform":[{"filter":"datum.p=='D0'&&datum.s=='b'&&datum.k=='txt'"}],"mark":{"type":"text","align":"left","baseline":"middle","font":"DejaVu Serif","fontSize":10,"color":"#4848ff"},"encoding":{"text":{"field":"t"}}}
   ]
  },
  {"data":{"name":"leg"},"mark":{"type":"point","opacity":0},
   "encoding":{
    "x":{"field":"x","type":"quantitative","scale":{"type":"log","domain":[0.13,31.6],"nice":false},"axis":{"orient":"top","values":[0.2,0.3,0.4,0.5,0.6,0.7,0.8,0.9,1,2,3,4,5,6,7,8,9,10,20,30],"labels":false,"title":null,"tickSize":{"condition":{"test":"datum.value==1||datum.value==10","value":-7},"value":-3.5}}},
    "y":{"field":"y","type":"quantitative","scale":{"type":"log","domain":[3.162,3162],"nice":false},"axis":{"orient":"right","values":[4,5,6,7,8,9,10,20,30,40,50,60,70,80,90,100,200,300,400,500,600,700,800,900,1000,2000,3000],"labels":false,"title":null,"tickSize":{"condition":{"test":"datum.value==10||datum.value==100||datum.value==1000","value":-7},"value":-3.5}}}
   }}
 ],
 "resolve":{"scale":{"x":"independent","y":"independent"}}
},
{"width":122,"height":183,
 "layer":[
  {"data":{"name":"pts"},"transform":[{"filter":"datum.p=='D36'"}],
   "encoding":{
    "x":{"field":"x","type":"quantitative","scale":{"type":"log","domain":[0.13,31.6],"nice":false},"axis":{"orient":"bottom","values":[0.2,0.3,0.4,0.5,0.6,0.7,0.8,0.9,1,2,3,4,5,6,7,8,9,10,20,30],"format":"d","labelOverlap":false,"labelPadding":20,"labelExpr":"datum.value==1||datum.value==10?datum.label:''","title":"r/rᵥᵢᵣ","titleFontSize":14,"titlePadding":5,"tickSize":{"condition":{"test":"datum.value==1||datum.value==10","value":-7},"value":-3.5}}},
    "y":{"field":"y","type":"quantitative","scale":{"type":"log","domain":[3.162,3162],"nice":false},"axis":{"orient":"left","values":[4,5,6,7,8,9,10,20,30,40,50,60,70,80,90,100,200,300,400,500,600,700,800,900,1000,2000,3000],"labels":false,"title":null,"tickSize":{"condition":{"test":"datum.value==10||datum.value==100||datum.value==1000","value":-7},"value":-3.5}}}
   },
   "layer":[
    {"transform":[{"filter":"datum.s=='b'"}],"mark":{"type":"errorbar","color":"#5c5cff","ticks":{"size":4}},"encoding":{"y":{"field":"lo","type":"quantitative"},"y2":{"field":"hi"}}},
    {"transform":[{"filter":"datum.s=='b'"}],"mark":{"type":"line","color":"#4646ff","strokeWidth":1,"strokeDash":[4,2]}},
    {"transform":[{"filter":"datum.s=='b'"}],"mark":{"type":"point","shape":"circle","filled":false,"color":"#4a4aff","size":50,"strokeWidth":0.9,"opacity":1}},
    {"transform":[{"filter":"datum.s=='r'"}],"mark":{"type":"errorbar","color":"#ff6464","ticks":{"size":4}},"encoding":{"y":{"field":"lo","type":"quantitative"},"y2":{"field":"hi"}}},
    {"transform":[{"filter":"datum.s=='r'"}],"mark":{"type":"line","color":"#ff3c3c","strokeWidth":1,"strokeDash":[1,2]}},
    {"transform":[{"filter":"datum.s=='r'"}],"mark":{"type":"point","shape":"triangle-up","filled":true,"color":"#ff0000","size":35,"opacity":1}}
   ]
  },
  {"data":{"name":"leg"},"mark":{"type":"point","opacity":0},
   "encoding":{
    "x":{"field":"x","type":"quantitative","scale":{"type":"log","domain":[0.13,31.6],"nice":false},"axis":{"orient":"top","values":[0.2,0.3,0.4,0.5,0.6,0.7,0.8,0.9,1,2,3,4,5,6,7,8,9,10,20,30],"labels":false,"title":null,"tickSize":{"condition":{"test":"datum.value==1||datum.value==10","value":-7},"value":-3.5}}},
    "y":{"field":"y","type":"quantitative","scale":{"type":"log","domain":[3.162,3162],"nice":false},"axis":{"orient":"right","values":[4,5,6,7,8,9,10,20,30,40,50,60,70,80,90,100,200,300,400,500,600,700,800,900,1000,2000,3000],"labels":false,"title":null,"tickSize":{"condition":{"test":"datum.value==10||datum.value==100||datum.value==1000","value":-7},"value":-3.5}}}
   }}
 ],
 "resolve":{"scale":{"x":"independent","y":"independent"}}
},
{"width":122,"height":183,
 "layer":[
  {"data":{"name":"pts"},"transform":[{"filter":"datum.p=='D69'"}],
   "encoding":{
    "x":{"field":"x","type":"quantitative","scale":{"type":"log","domain":[0.13,31.6],"nice":false},"axis":{"orient":"bottom","values":[0.2,0.3,0.4,0.5,0.6,0.7,0.8,0.9,1,2,3,4,5,6,7,8,9,10,20,30],"format":"d","labelOverlap":false,"labelPadding":20,"labelExpr":"datum.value==1||datum.value==10?datum.label:''","title":null,"tickSize":{"condition":{"test":"datum.value==1||datum.value==10","value":-7},"value":-3.5}}},
    "y":{"field":"y","type":"quantitative","scale":{"type":"log","domain":[3.162,3162],"nice":false},"axis":{"orient":"left","values":[4,5,6,7,8,9,10,20,30,40,50,60,70,80,90,100,200,300,400,500,600,700,800,900,1000,2000,3000],"labels":false,"title":null,"tickSize":{"condition":{"test":"datum.value==10||datum.value==100||datum.value==1000","value":-7},"value":-3.5}}}
   },
   "layer":[
    {"transform":[{"filter":"datum.s=='b'"}],"mark":{"type":"errorbar","color":"#5c5cff","ticks":{"size":4}},"encoding":{"y":{"field":"lo","type":"quantitative"},"y2":{"field":"hi"}}},
    {"transform":[{"filter":"datum.s=='b'"}],"mark":{"type":"line","color":"#4646ff","strokeWidth":1,"strokeDash":[4,2]}},
    {"transform":[{"filter":"datum.s=='b'"}],"mark":{"type":"point","shape":"circle","filled":false,"color":"#4a4aff","size":50,"strokeWidth":0.9,"opacity":1}},
    {"transform":[{"filter":"datum.s=='r'"}],"mark":{"type":"errorbar","color":"#ff6464","ticks":{"size":4}},"encoding":{"y":{"field":"lo","type":"quantitative"},"y2":{"field":"hi"}}},
    {"transform":[{"filter":"datum.s=='r'"}],"mark":{"type":"line","color":"#ff3c3c","strokeWidth":1,"strokeDash":[1,2]}},
    {"transform":[{"filter":"datum.s=='r'"}],"mark":{"type":"point","shape":"triangle-up","filled":true,"color":"#ff0000","size":35,"opacity":1}}
   ]
  },
  {"data":{"name":"leg"},"mark":{"type":"point","opacity":0},
   "encoding":{
    "x":{"field":"x","type":"quantitative","scale":{"type":"log","domain":[0.13,31.6],"nice":false},"axis":{"orient":"top","values":[0.2,0.3,0.4,0.5,0.6,0.7,0.8,0.9,1,2,3,4,5,6,7,8,9,10,20,30],"labels":false,"title":null,"tickSize":{"condition":{"test":"datum.value==1||datum.value==10","value":-7},"value":-3.5}}},
    "y":{"field":"y","type":"quantitative","scale":{"type":"log","domain":[3.162,3162],"nice":false},"axis":{"orient":"right","values":[4,5,6,7,8,9,10,20,30,40,50,60,70,80,90,100,200,300,400,500,600,700,800,900,1000,2000,3000],"labels":false,"title":"ΔM₁₂<0.5","titleFontSize":14,"titlePadding":0,"tickSize":{"condition":{"test":"datum.value==10||datum.value==100||datum.value==1000","value":-7},"value":-3.5}}}
   }}
 ],
 "resolve":{"scale":{"x":"independent","y":"independent"}}
}
],
"config":{
 "view":{"stroke":"#777","strokeWidth":1},
 "axis":{"domain":false,"grid":false,"tickColor":"#777","tickWidth":1,"labelFont":"DejaVu Serif","labelFontSize":8,"labelColor":"#333","titleFont":"DejaVu Serif","titleFontWeight":"normal","titleColor":"#333"},
 "title":{"font":"DejaVu Serif","fontSize":13,"fontWeight":"normal","color":"#333","offset":3},
 "concat":{"spacing":0}
}
}
